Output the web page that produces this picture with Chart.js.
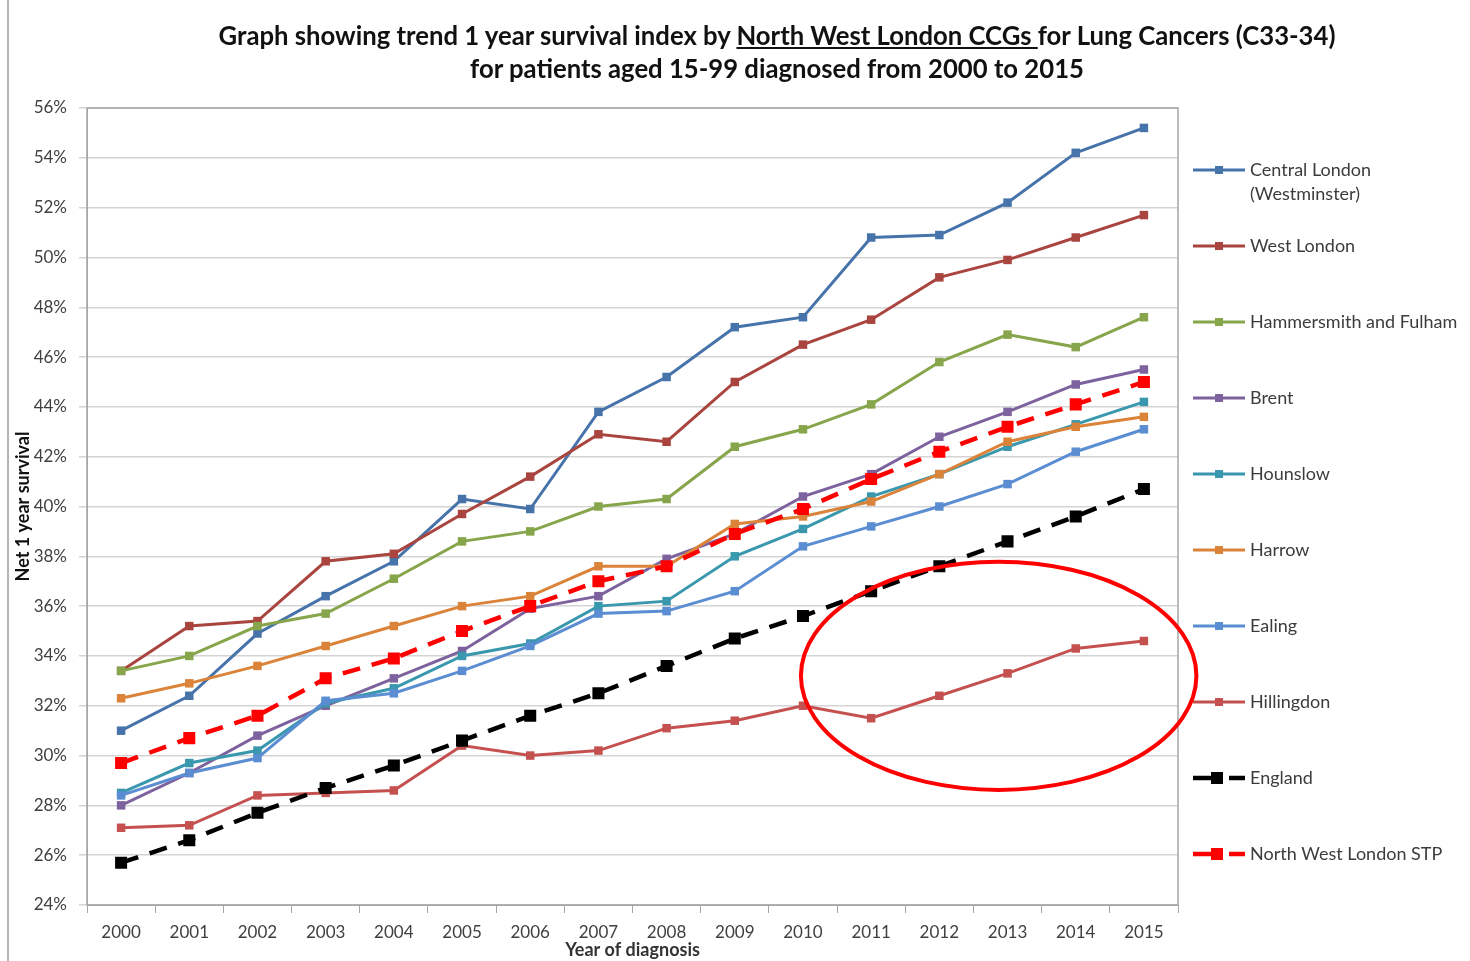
<!DOCTYPE html>
<html>
<head>
<meta charset="utf-8">
<script src="https://cdn.jsdelivr.net/npm/chart.js@4.4.0/dist/chart.umd.min.js"></script>
<style>
  html, body { margin: 0; padding: 0; background: #fff; }
  #wrap { position: relative; width: 1470px; height: 961px; overflow: hidden; }
  #frame { position: absolute; left: 7px; top: 0; width: 1470px; height: 961px; border-left: 2px solid #b4b4b4; }
  #title {
    position: absolute; left: 77px; top: 19px; width: 1400px;
    text-align: center; font-family: Lato, "Open Sans", sans-serif; font-weight: bold;
    font-size: 25.7px; line-height: 33px; color: #111;
  }
  canvas { position: absolute; left: 0; top: 0; }
</style>
</head>
<body>
<div id="wrap">
  <div id="frame"></div>
  <canvas id="line-chart" width="1470" height="961"></canvas>
  <div id="title">Graph showing trend 1 year survival index by <u>North West London CCGs </u>for Lung Cancers (C33-34)<br>for patients aged 15-99 diagnosed from 2000 to 2015</div>
</div>
<script>
// data (net 1 year survival, %)
const years = ['2000', '2001', '2002', '2003', '2004', '2005', '2006', '2007',
               '2008', '2009', '2010', '2011', '2012', '2013', '2014', '2015'];

const centralLondon = [31.0, 32.4, 34.9, 36.4, 37.8, 40.3, 39.9, 43.8, 45.2, 47.2, 47.6, 50.8, 50.9, 52.2, 54.2, 55.2];
const westLondon    = [33.4, 35.2, 35.4, 37.8, 38.1, 39.7, 41.2, 42.9, 42.6, 45.0, 46.5, 47.5, 49.2, 49.9, 50.8, 51.7];
const hammersmith   = [33.4, 34.0, 35.2, 35.7, 37.1, 38.6, 39.0, 40.0, 40.3, 42.4, 43.1, 44.1, 45.8, 46.9, 46.4, 47.6];
const brent         = [28.0, 29.3, 30.8, 32.0, 33.1, 34.2, 35.9, 36.4, 37.9, 38.9, 40.4, 41.3, 42.8, 43.8, 44.9, 45.5];
const hounslow      = [28.5, 29.7, 30.2, 32.1, 32.7, 34.0, 34.5, 36.0, 36.2, 38.0, 39.1, 40.4, 41.3, 42.4, 43.3, 44.2];
const harrow        = [32.3, 32.9, 33.6, 34.4, 35.2, 36.0, 36.4, 37.6, 37.6, 39.3, 39.6, 40.2, 41.3, 42.6, 43.2, 43.6];
const ealing        = [28.4, 29.3, 29.9, 32.2, 32.5, 33.4, 34.4, 35.7, 35.8, 36.6, 38.4, 39.2, 40.0, 40.9, 42.2, 43.1];
const hillingdon    = [27.1, 27.2, 28.4, 28.5, 28.6, 30.4, 30.0, 30.2, 31.1, 31.4, 32.0, 31.5, 32.4, 33.3, 34.3, 34.6];
const england       = [25.7, 26.6, 27.7, 28.7, 29.6, 30.6, 31.6, 32.5, 33.6, 34.7, 35.6, 36.6, 37.6, 38.6, 39.6, 40.7];
const nwlStp        = [29.7, 30.7, 31.6, 33.1, 33.9, 35.0, 36.0, 37.0, 37.6, 38.9, 39.9, 41.1, 42.2, 43.2, 44.1, 45.0];

const yTicks = [24, 26, 28, 30, 32, 34, 36, 38, 40, 42, 44, 46, 48, 50, 52, 54, 56];

// highlight ellipse round Hillingdon, in data units (category index, %)
const ringCentre = [12.87, 33.2];
const ringRadius = [2.9, 4.58];

const FONT = 'Lato, "Open Sans", sans-serif';

function solid(label, data, color) {
    return {
        label: label, data: data, borderColor: color, backgroundColor: color,
        borderWidth: 3, pointStyle: 'rect', pointRadius: 6, pointBorderWidth: 0,
        tension: 0, fill: false
    };
}

function dashed(label, data, color) {
    return {
        label: label, data: data, borderColor: color, backgroundColor: color,
        borderWidth: 4.5, borderDash: [18, 12], pointStyle: 'rect', pointRadius: 8.5,
        pointBorderWidth: 0, tension: 0, fill: false
    };
}

const datasets = [
    solid('Central London (Westminster)', centralLondon, '#4673AA'),
    solid('West London', westLondon, '#A9443F'),
    solid('Hammersmith and Fulham', hammersmith, '#87A54B'),
    solid('Brent', brent, '#7D629E'),
    solid('Hounslow', hounslow, '#3A98AE'),
    solid('Harrow', harrow, '#DA8339'),
    solid('Ealing', ealing, '#5A8DD2'),
    solid('Hillingdon', hillingdon, '#C4514F'),
    dashed('England', england, '#000000'),
    dashed('North West London STP', nwlStp, '#FF0000')
];
// later series sit on top, as in the spreadsheet
datasets.forEach(function (d, i) { d.order = datasets.length - i; });

const legendLines = {
    'Central London (Westminster)': ['Central London', '(Westminster)']
};

const extras = {
    id: 'extras',
    afterDraw: function (chart) {
        const ctx = chart.ctx, area = chart.chartArea;
        const xs = chart.scales.x, ys = chart.scales.y;
        ctx.save();

        // plot area frame
        ctx.strokeStyle = '#a6a6a6';
        ctx.lineWidth = 1.5;
        ctx.strokeRect(area.left, area.top, area.right - area.left, area.bottom - area.top);

        // legend
        const x0 = area.right + 15;
        ctx.font = '18px ' + FONT;
        ctx.textBaseline = 'middle';
        chart.data.datasets.forEach(function (d, i) {
            const y = area.top + 62 + i * 76;
            ctx.strokeStyle = d.borderColor;
            ctx.fillStyle = d.borderColor;
            ctx.lineWidth = d.borderWidth;
            ctx.setLineDash([]);
            if (d.borderDash) {
                ctx.beginPath(); ctx.moveTo(x0, y); ctx.lineTo(x0 + 26, y); ctx.stroke();
                ctx.beginPath(); ctx.moveTo(x0 + 36, y); ctx.lineTo(x0 + 52, y); ctx.stroke();
                ctx.fillRect(x0 + 18, y - 6, 12, 12);
            } else {
                ctx.beginPath(); ctx.moveTo(x0, y); ctx.lineTo(x0 + 52, y); ctx.stroke();
                ctx.fillRect(x0 + 22, y - 4, 8, 8);
            }
            ctx.fillStyle = '#3c3c3c';
            const lines = legendLines[d.label] || [d.label];
            lines.forEach(function (t, k) { ctx.fillText(t, x0 + 57, y + k * 24); });
        });

        // red ring
        const cx = xs.getPixelForValue(ringCentre[0]);
        const cy = ys.getPixelForValue(ringCentre[1]);
        const rx = xs.getPixelForValue(ringCentre[0] + ringRadius[0]) - cx;
        const ry = cy - ys.getPixelForValue(ringCentre[1] + ringRadius[1]);
        ctx.beginPath();
        ctx.ellipse(cx, cy, rx, ry, 0, 0, Math.PI * 2);
        ctx.strokeStyle = '#FF0000';
        ctx.lineWidth = 4;
        ctx.stroke();
        ctx.restore();
    }
};

new Chart(document.querySelector('#line-chart').getContext('2d'), {
    type: 'line',
    data: { labels: years, datasets: datasets },
    plugins: [extras],
    options: {
        responsive: false,
        animation: false,
        devicePixelRatio: 1,
        layout: { padding: { top: 108, right: 292, left: 0, bottom: 0 } },
        plugins: {
            legend: { display: false },
            title: { display: false },
            tooltip: { enabled: false }
        },
        scales: {
            x: {
                offset: true,
                grid: { offset: true, drawOnChartArea: false, drawTicks: true, tickLength: 8, color: '#a6a6a6' },
                border: { color: '#a6a6a6' },
                ticks: { color: '#404040', font: { family: FONT, size: 17 }, padding: 9, maxRotation: 0, autoSkip: false },
                title: {
                    display: true, text: 'Year of diagnosis', color: '#333',
                    font: { family: FONT, size: 18, weight: 'bold' }, padding: { top: 0, bottom: 0 }
                },
                afterFit: function (s) { s.height = 56; }
            },
            y: {
                min: yTicks[0],
                max: yTicks[yTicks.length - 1],
                afterBuildTicks: function (s) { s.ticks = yTicks.map(function (v) { return { value: v }; }); },
                grid: { color: '#d4d4d4', lineWidth: 1.5, tickLength: 8 },
                border: { color: '#a6a6a6' },
                ticks: {
                    color: '#404040', font: { family: FONT, size: 17 }, padding: 12,
                    callback: function (v) { return v + '%'; }
                },
                title: {
                    display: true, text: 'Net 1 year survival', color: '#111',
                    font: { family: FONT, size: 18, weight: 'bold' }, padding: { top: 12, bottom: 0 }
                },
                afterFit: function (s) { s.width = 87; }
            }
        }
    }
});
</script>
</body>
</html>
